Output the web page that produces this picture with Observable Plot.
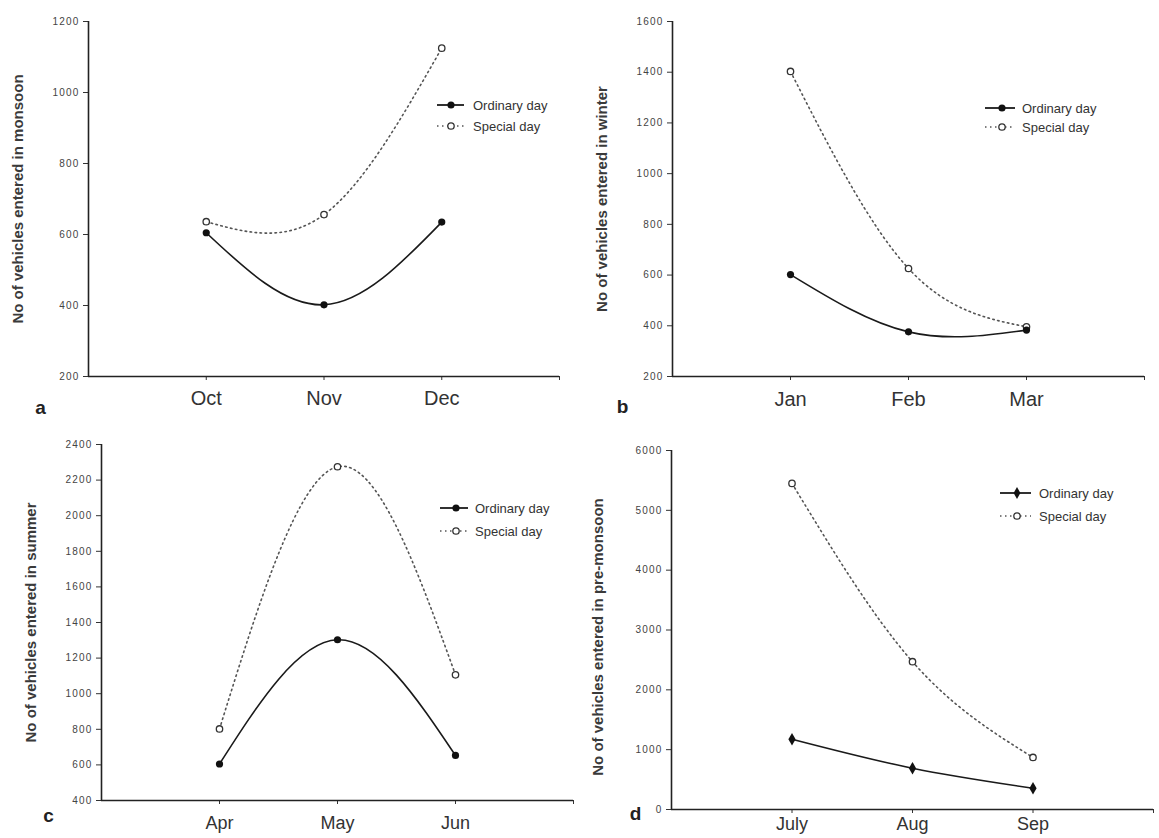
<!DOCTYPE html>
<html><head><meta charset="utf-8">
<script src="https://cdn.jsdelivr.net/npm/d3@7"></script>
<script src="https://cdn.jsdelivr.net/npm/@observablehq/plot@0.6"></script>
<style>
body{margin:0;background:#fff;font-family:"Liberation Sans",Arial,sans-serif;}
#wrap{position:relative;width:1159px;height:838px;overflow:hidden;background:#fff;}
.panel{position:absolute;}
.panel g[aria-label="y-axis tick label"] text{letter-spacing:1.2px;}
#legend{position:absolute;left:0;top:0;pointer-events:none;}
</style></head><body><div id="wrap"></div>
<script>
// ---- data ----
const monthsA = ["Oct", "Nov", "Dec"];
const ordinaryA = [605, 402, 635];
const specialA = [636, 656, 1125];
const ticksA = [200, 400, 600, 800, 1000, 1200];

const monthsB = ["Jan", "Feb", "Mar"];
const ordinaryB = [602, 376, 383];
const specialB = [1403, 626, 396];
const ticksB = [200, 400, 600, 800, 1000, 1200, 1400, 1600];

const monthsC = ["Apr", "May", "Jun"];
const ordinaryC = [605, 1303, 653];
const specialC = [802, 2275, 1106];
const ticksC = [400, 600, 800, 1000, 1200, 1400, 1600, 1800, 2000, 2200, 2400];

const monthsD = ["July", "Aug", "Sep"];
const ordinaryD = [1175, 690, 355];
const specialD = [5450, 2470, 870];
const ticksD = [0, 1000, 2000, 3000, 4000, 5000, 6000];

const titles = [
  "No of vehicles entered in monsoon",
  "No of vehicles entered in winter",
  "No of vehicles entered in summer",
  "No of vehicles entered in pre-monsoon"
];
const tags = ["a", "b", "c", "d"];
const seriesNames = ["Ordinary day", "Special day"];

// ---- layout ----
const panels = [
  {months: monthsA, ord: ordinaryA, spe: specialA, ticks: ticksA, left: 0, top: 0, w: 580, h: 420,
   mL: 88, mR: 21, mT: 21, mB: 44, xFont: 20, xPad: 10, titleDx: -70, titleDy: 0, tagDx: -48, tagDy: 31, sym: "circle",
   leg: {x1: 437, x2: 464, mx: 451, tx: 473, y1: 105, y2: 126}},
  {months: monthsB, ord: ordinaryB, spe: specialB, ticks: ticksB, left: 580, top: 0, w: 579, h: 420,
   mL: 92, mR: 15, mT: 21, mB: 44, xFont: 20, xPad: 11, titleDx: -70, titleDy: 0, tagDx: -50, tagDy: 30, sym: "circle",
   leg: {x1: 985, x2: 1015, mx: 1002, tx: 1022, y1: 108, y2: 127}},
  {months: monthsC, ord: ordinaryC, spe: specialC, ticks: ticksC, left: 0, top: 420, w: 580, h: 418,
   mL: 101, mR: 7, mT: 24, mB: 38, xFont: 18, xPad: 12, titleDx: -70, titleDy: 0, tagDx: -53, tagDy: 15, sym: "circle",
   leg: {x1: 440, x2: 468, mx: 456, tx: 475, y1: 508, y2: 531}},
  {months: monthsD, ord: ordinaryD, spe: specialD, ticks: ticksD, left: 580, top: 420, w: 579, h: 418,
   mL: 91, mR: 6, mT: 30, mB: 29, xFont: 18, xPad: 4, titleDx: -73, titleDy: 7, tagDx: -36, tagDy: 4, sym: "diamond",
   leg: {x1: 1000, x2: 1031, mx: 1017, tx: 1039, y1: 493, y2: 516}}
];

const wrap = document.getElementById("wrap");
const font = "Liberation Sans, Arial, sans-serif";

panels.forEach((c, k) => {
  const ord = c.months.map((m, i) => ({pos: i + 1, month: m, value: c.ord[i]}));
  const spe = c.months.map((m, i) => ({pos: i + 1, month: m, value: c.spe[i]}));
  const y0 = c.ticks[0], y1 = c.ticks[c.ticks.length - 1];
  const chart = Plot.plot({
    width: c.w, height: c.h,
    marginLeft: c.mL, marginRight: c.mR, marginTop: c.mT, marginBottom: c.mB,
    style: {fontFamily: font, color: "#333", background: "transparent", overflow: "visible"},
    x: {domain: [0, 4], axis: null},
    y: {domain: [y0, y1], axis: null},
    marks: [
      Plot.axisY(c.ticks, {tickSize: 5, tickPadding: 4, fontSize: 10, fill: "#444", stroke: "#333",
        tickFormat: d => String(d), label: null}),
      Plot.axisX([1, 2, 3, 4], {tickSize: 4, tickPadding: c.xPad, fontSize: c.xFont, fill: "#333", stroke: "#333",
        tickFormat: d => c.months[d - 1] ?? "", label: null}),
      Plot.ruleX([0], {stroke: "#222", strokeWidth: 1.6}),
      Plot.ruleY([y0], {stroke: "#222", strokeWidth: 1.6}),
      Plot.line(spe, {x: "pos", y: "value", curve: "natural", stroke: "#555", strokeWidth: 1.6, strokeDasharray: "1.5,3.5"}),
      Plot.line(ord, {x: "pos", y: "value", curve: "natural", stroke: "#1a1a1a", strokeWidth: 1.6}),
      Plot.dot(spe, {x: "pos", y: "value", r: 3.2, fill: "white", stroke: "#333", strokeWidth: 1.3}),
      Plot.dot(ord, {x: "pos", y: "value", r: c.sym === "diamond" ? 3.8 : 3.6, symbol: c.sym, fill: "#111", stroke: "none"}),
      Plot.text([titles[k]], {frameAnchor: "left", textAnchor: "middle", rotate: -90, dx: c.titleDx, dy: c.titleDy,
        fontSize: 15, fontWeight: "bold", fill: "#3a3a3a"}),
      Plot.text([tags[k]], {frameAnchor: "bottom-left", textAnchor: "middle", lineAnchor: "middle",
        dx: c.tagDx, dy: c.tagDy, fontSize: 19, fontWeight: "bold", fill: "#222"})
    ]
  });
  chart.classList.add("panel");
  chart.style.left = c.left + "px";
  chart.style.top = c.top + "px";
  wrap.appendChild(chart);
});

// ---- legends overlay ----
const svg = d3.select("#wrap").append("svg").attr("id", "legend")
  .attr("width", 1159).attr("height", 838);
panels.forEach(c => {
  const L = c.leg;
  const g = svg.append("g").attr("font-family", font).attr("font-size", 13).attr("fill", "#333");
  g.append("line").attr("x1", L.x1).attr("x2", L.x2).attr("y1", L.y1).attr("y2", L.y1)
    .attr("stroke", "#1a1a1a").attr("stroke-width", 1.8);
  g.append("path").attr("transform", `translate(${L.mx},${L.y1})`)
    .attr("d", d3.symbol(c.sym === "diamond" ? d3.symbolDiamond : d3.symbolCircle, c.sym === "diamond" ? 40 : 40)())
    .attr("fill", "#111");
  g.append("text").attr("x", L.tx).attr("y", L.y1).attr("dy", "0.35em").text(seriesNames[0]);
  g.append("line").attr("x1", L.x1).attr("x2", L.x2).attr("y1", L.y2).attr("y2", L.y2)
    .attr("stroke", "#555").attr("stroke-width", 1.6).attr("stroke-dasharray", "1.5,3.5");
  g.append("circle").attr("cx", L.mx).attr("cy", L.y2).attr("r", 3.2)
    .attr("fill", "white").attr("stroke", "#333").attr("stroke-width", 1.3);
  g.append("text").attr("x", L.tx).attr("y", L.y2).attr("dy", "0.35em").text(seriesNames[1]);
});
</script>
</body></html>
